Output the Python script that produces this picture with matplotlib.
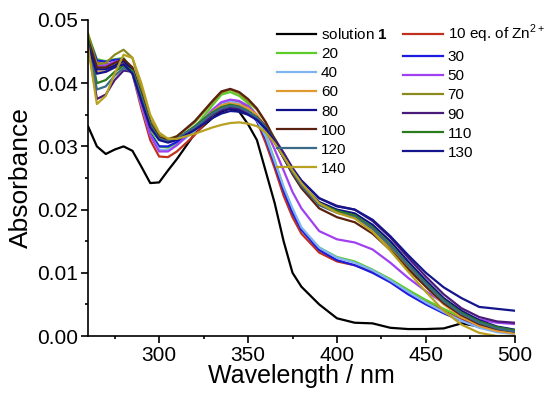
import matplotlib
matplotlib.use("Agg")
import matplotlib.pyplot as plt
from matplotlib.ticker import MultipleLocator, FormatStrFormatter

plt.rcParams['font.family'] = ['Liberation Sans', 'DejaVu Sans']
plt.rcParams['mathtext.fontset'] = 'custom'
plt.rcParams['mathtext.rm'] = 'Liberation Sans'
plt.rcParams['mathtext.bf'] = 'Liberation Sans:bold'

wavelength = [260, 265, 270, 275, 280, 285, 290, 295, 300, 305, 310, 320, 330, 335, 340, 345,
              350, 355, 360, 365, 370, 375, 380, 390, 400, 410, 420, 430, 440, 450, 460, 470,
              480, 490, 500]

sol1 = [0.0332, 0.0300, 0.0288, 0.0295, 0.0300, 0.0293, 0.0268, 0.0242, 0.0243, 0.0262, 0.0280,
        0.0320, 0.0345, 0.0355, 0.0360, 0.0355, 0.0335, 0.0310, 0.0260, 0.0210, 0.0150, 0.0100,
        0.0078, 0.0050, 0.0028, 0.0021, 0.0020, 0.0013, 0.0011, 0.0011, 0.0012, 0.0020, 0.0015,
        0.0011, 0.0008]
eq10 = [0.0472, 0.0432, 0.0430, 0.0432, 0.0432, 0.0415, 0.0360, 0.0310, 0.0284, 0.0283, 0.0292,
        0.0318, 0.0350, 0.0365, 0.0372, 0.0370, 0.0360, 0.0340, 0.0305, 0.0265, 0.0222, 0.0188,
        0.0162, 0.0132, 0.0118, 0.0112, 0.0102, 0.0088, 0.0070, 0.0055, 0.0040, 0.0026, 0.0016,
        0.0010, 0.0007]
eq20 = [0.0478, 0.0438, 0.0435, 0.0438, 0.0440, 0.0422, 0.0372, 0.0325, 0.0300, 0.0298, 0.0305,
        0.0330, 0.0365, 0.0382, 0.0386, 0.0380, 0.0368, 0.0348, 0.0318, 0.0278, 0.0235, 0.0198,
        0.0170, 0.0140, 0.0125, 0.0118, 0.0105, 0.0090, 0.0073, 0.0057, 0.0043, 0.0030, 0.0019,
        0.0012, 0.0008]
eq30 = [0.0474, 0.0436, 0.0434, 0.0437, 0.0438, 0.0418, 0.0368, 0.0320, 0.0300, 0.0300, 0.0307,
        0.0328, 0.0352, 0.0362, 0.0366, 0.0364, 0.0356, 0.0340, 0.0312, 0.0272, 0.0230, 0.0195,
        0.0168, 0.0136, 0.0120, 0.0112, 0.0100, 0.0085, 0.0066, 0.0050, 0.0036, 0.0024, 0.0014,
        0.0008, 0.0005]
eq40 = [0.0470, 0.0430, 0.0428, 0.0432, 0.0434, 0.0416, 0.0366, 0.0318, 0.0295, 0.0294, 0.0302,
        0.0325, 0.0355, 0.0368, 0.0372, 0.0368, 0.0358, 0.0342, 0.0315, 0.0276, 0.0236, 0.0202,
        0.0172, 0.0140, 0.0124, 0.0116, 0.0104, 0.0088, 0.0070, 0.0053, 0.0038, 0.0024, 0.0013,
        0.0006, 0.0003]
eq50 = [0.0466, 0.0428, 0.0428, 0.0434, 0.0436, 0.0418, 0.0368, 0.0318, 0.0292, 0.0292, 0.0302,
        0.0328, 0.0358, 0.0370, 0.0374, 0.0372, 0.0364, 0.0350, 0.0326, 0.0295, 0.0262, 0.0228,
        0.0202, 0.0166, 0.0153, 0.0148, 0.0137, 0.0116, 0.0092, 0.0071, 0.0052, 0.0036, 0.0026,
        0.0021, 0.0019]
eq60 = [0.0464, 0.0418, 0.0418, 0.0425, 0.0430, 0.0418, 0.0375, 0.0330, 0.0312, 0.0308, 0.0312,
        0.0330, 0.0355, 0.0365, 0.0368, 0.0366, 0.0360, 0.0350, 0.0332, 0.0308, 0.0282, 0.0258,
        0.0238, 0.0208, 0.0196, 0.0188, 0.0168, 0.0140, 0.0108, 0.0078, 0.0050, 0.0030, 0.0016,
        0.0008, 0.0004]
eq70 = [0.0478, 0.0430, 0.0432, 0.0445, 0.0453, 0.0440, 0.0392, 0.0342, 0.0318, 0.0312, 0.0316,
        0.0338, 0.0370, 0.0385, 0.0390, 0.0384, 0.0372, 0.0358, 0.0338, 0.0312, 0.0285, 0.0260,
        0.0240, 0.0210, 0.0198, 0.0190, 0.0170, 0.0142, 0.0110, 0.0080, 0.0054, 0.0034, 0.0020,
        0.0012, 0.0007]
eq80 = [0.0466, 0.0422, 0.0422, 0.0428, 0.0435, 0.0420, 0.0375, 0.0332, 0.0312, 0.0308, 0.0312,
        0.0330, 0.0350, 0.0356, 0.0360, 0.0358, 0.0352, 0.0343, 0.0328, 0.0306, 0.0282, 0.0258,
        0.0240, 0.0212, 0.0200, 0.0194, 0.0176, 0.0150, 0.0118, 0.0088, 0.0060, 0.0040, 0.0025,
        0.0015, 0.0010]
eq90 = [0.0460, 0.0375, 0.0382, 0.0405, 0.0420, 0.0418, 0.0382, 0.0336, 0.0314, 0.0308, 0.0312,
        0.0330, 0.0350, 0.0358, 0.0362, 0.0360, 0.0354, 0.0346, 0.0332, 0.0312, 0.0290, 0.0266,
        0.0246, 0.0218, 0.0206, 0.0200, 0.0182, 0.0156, 0.0124, 0.0094, 0.0066, 0.0044, 0.0030,
        0.0023, 0.0021]
eq100 = [0.0470, 0.0425, 0.0425, 0.0432, 0.0438, 0.0425, 0.0382, 0.0336, 0.0314, 0.0310, 0.0316,
         0.0340, 0.0372, 0.0387, 0.0391, 0.0386, 0.0375, 0.0360, 0.0338, 0.0310, 0.0282, 0.0256,
         0.0234, 0.0202, 0.0188, 0.0180, 0.0162, 0.0136, 0.0106, 0.0078, 0.0052, 0.0033, 0.0019,
         0.0011, 0.0007]
eq110 = [0.0468, 0.0400, 0.0405, 0.0418, 0.0428, 0.0420, 0.0380, 0.0334, 0.0312, 0.0308, 0.0312,
         0.0332, 0.0354, 0.0362, 0.0366, 0.0363, 0.0356, 0.0346, 0.0330, 0.0308, 0.0284, 0.0260,
         0.0240, 0.0210, 0.0198, 0.0191, 0.0172, 0.0145, 0.0113, 0.0084, 0.0057, 0.0037, 0.0023,
         0.0014, 0.0009]
eq120 = [0.0464, 0.0390, 0.0395, 0.0412, 0.0424, 0.0418, 0.0378, 0.0333, 0.0312, 0.0308, 0.0312,
         0.0330, 0.0352, 0.0360, 0.0364, 0.0362, 0.0355, 0.0345, 0.0330, 0.0307, 0.0283, 0.0259,
         0.0238, 0.0207, 0.0195, 0.0188, 0.0170, 0.0143, 0.0112, 0.0082, 0.0055, 0.0035, 0.0021,
         0.0012, 0.0007]
eq130 = [0.0462, 0.0415, 0.0418, 0.0425, 0.0430, 0.0415, 0.0372, 0.0330, 0.0310, 0.0306, 0.0310,
         0.0326, 0.0345, 0.0352, 0.0356, 0.0355, 0.0350, 0.0342, 0.0328, 0.0308, 0.0286, 0.0264,
         0.0246, 0.0218, 0.0205, 0.0200, 0.0184, 0.0158, 0.0128, 0.0100, 0.0077, 0.0060, 0.0046,
         0.0043, 0.0040]
eq140 = [0.0458, 0.0367, 0.0380, 0.0415, 0.0445, 0.0440, 0.0400, 0.0350, 0.0322, 0.0312, 0.0312,
         0.0320, 0.0330, 0.0334, 0.0337, 0.0338, 0.0336, 0.0332, 0.0322, 0.0305, 0.0284, 0.0262,
         0.0242, 0.0210, 0.0195, 0.0186, 0.0165, 0.0135, 0.0102, 0.0070, 0.0040, 0.0018, 0.0005,
         0.0000, 0.0000]

labels = ["solution $\\mathbf{1}$", "10 eq. of Zn$^{2+}$", "20", "30", "40", "50", "60", "70",
          "80", "90", "100", "110", "120", "130", "140"]
series = [sol1, eq10, eq20, eq30, eq40, eq50, eq60, eq70, eq80, eq90, eq100, eq110, eq120,
          eq130, eq140]
colors = ["#000000", "#c0301c", "#5ccc29", "#1c1ce0", "#80b4f0", "#a040f0", "#e09a30",
          "#8a8a1e", "#10108a", "#4a1a78", "#5a2010", "#2a7a1e", "#3a6a88", "#14148c",
          "#b8a020"]

fig = plt.figure(figsize=(5.5, 3.96), dpi=100)
ax = fig.add_axes([0.16, 0.1515, 0.776, 0.798])

handles = []
for y, c, lab in zip(series, colors, labels):
    h, = ax.plot(wavelength, y, color=c, lw=1.6, label=lab)
    handles.append(h)

ax.set_xlim(260, 500)
ax.set_ylim(0, 0.05)
ax.xaxis.set_major_locator(MultipleLocator(50))
ax.xaxis.set_minor_locator(MultipleLocator(25))
ax.yaxis.set_major_locator(MultipleLocator(0.01))
ax.yaxis.set_minor_locator(MultipleLocator(0.005))
ax.yaxis.set_major_formatter(FormatStrFormatter('%.2f'))
for s in ['top', 'right']:
    ax.spines[s].set_visible(False)
for s in ['left', 'bottom']:
    ax.spines[s].set_linewidth(1.2)
ax.tick_params(which='major', direction='out', length=5, width=1.2, labelsize=15, pad=2)
ax.tick_params(which='minor', direction='out', length=2.5, width=1.2)

ax.set_xlabel("Wavelength / nm", fontsize=18)
ax.xaxis.set_label_coords(0.5, -0.09)
ax.set_ylabel("Absorbance", fontsize=19)
ax.yaxis.set_label_coords(-0.13, 0.5)

order = [0, 2, 4, 6, 8, 10, 12, 14, 1, 3, 5, 7, 9, 11, 13]
ax.legend([handles[i] for i in order], [labels[i] for i in order], ncol=2, frameon=False,
          fontsize=11, loc='upper left', bbox_to_anchor=(0.435, 1.0), borderaxespad=0,
          borderpad=0.2, handlelength=2.6, handletextpad=0.3, columnspacing=1.0,
          labelspacing=0.33)

fig.savefig("out.png", dpi=100)
